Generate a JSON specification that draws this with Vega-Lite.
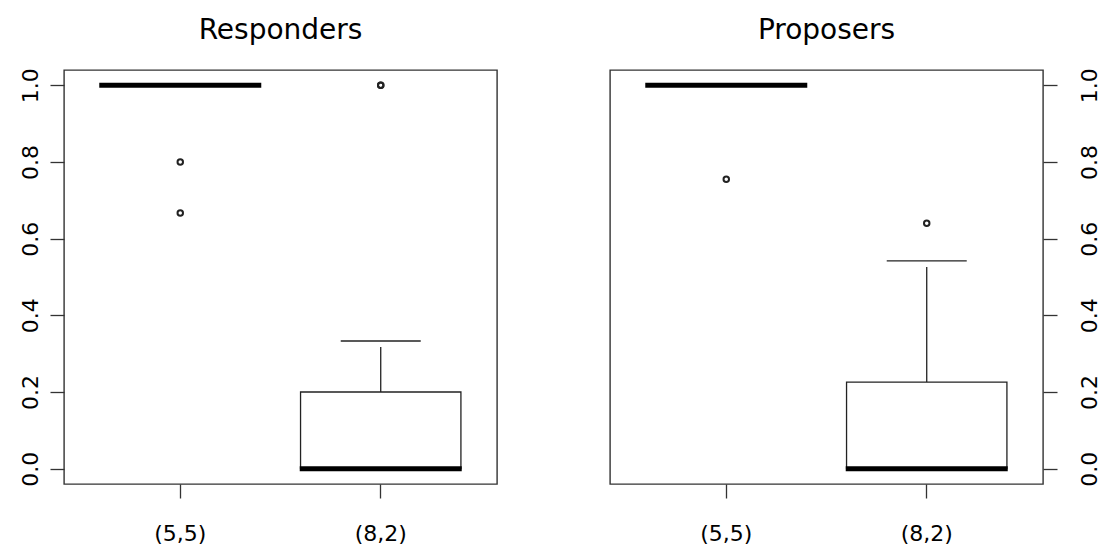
{
  "$schema": "https://vega.github.io/schema/vega-lite/v6.json",
  "autosize": {"type": "pad"},
  "padding": {"left": 18, "top": 16, "right": 0, "bottom": 0},
  "spacing": 111,
  "background": "white",
  "config": {
    "font": "DejaVu Sans",
    "view": {"stroke": "#333333", "strokeWidth": 1.4},
    "title": {"fontSize": 28, "fontWeight": "normal", "color": "#000000", "anchor": "middle", "baseline": "alphabetic", "offset": 23, "font": "DejaVu Sans"},
    "axis": {"grid": false, "domain": false, "title": null, "tickColor": "#333333", "tickWidth": 1.3, "tickSize": 14, "labelFontSize": 22, "labelColor": "#000000", "labelFont": "DejaVu Sans"}
  },
  "datasets": {
    "stats": [
      {"panel": "Responders", "group": "(5,5)", "lower_whisker": 1, "q1": 1, "median": 1, "q3": 1, "upper_whisker": 1},
      {"panel": "Responders", "group": "(8,2)", "lower_whisker": 0, "q1": 0, "median": 0, "q3": 0.2, "upper_whisker": 0.333},
      {"panel": "Proposers", "group": "(5,5)", "lower_whisker": 1, "q1": 1, "median": 1, "q3": 1, "upper_whisker": 1},
      {"panel": "Proposers", "group": "(8,2)", "lower_whisker": 0, "q1": 0, "median": 0, "q3": 0.226, "upper_whisker": 0.542}
    ],
    "outliers": [
      {"panel": "Responders", "group": "(5,5)", "value": 0.8},
      {"panel": "Responders", "group": "(5,5)", "value": 0.667},
      {"panel": "Responders", "group": "(8,2)", "value": 1.0},
      {"panel": "Responders", "group": "(8,2)", "value": 1.0},
      {"panel": "Proposers", "group": "(5,5)", "value": 0.755},
      {"panel": "Proposers", "group": "(8,2)", "value": 0.64}
    ]
  },
  "hconcat": [
    {
      "title": "Responders",
      "width": 433,
      "height": 414,
      "layer": [
        {
          "data": {"name": "stats"},
          "transform": [{"filter": "datum.panel == 'Responders'"}],
          "mark": {"type": "rule", "stroke": "#222222", "strokeWidth": 1.3, "strokeDash": [0, 6, 800, 0]},
          "encoding": {
            "x": {"field": "group", "type": "nominal", "scale": {"domain": ["(5,5)", "(8,2)"], "paddingInner": 0.2, "paddingOuter": 0.18},
                  "axis": {"orient": "bottom", "labelAngle": 0, "labelPadding": 25, "labelBaseline": "top"}},
            "y": {"field": "upper_whisker", "type": "quantitative", "scale": {"domain": [-0.04, 1.04], "nice": false, "zero": false},
                  "axis": {"orient": "left", "values": [0, 0.2, 0.4, 0.6, 0.8, 1.0], "format": ".1f", "labelAngle": 270, "labelAlign": "center", "labelBaseline": "alphabetic", "labelPadding": 13}},
            "y2": {"field": "q3"}
          }
        },
        {
          "data": {"name": "stats"},
          "transform": [{"filter": "datum.panel == 'Responders'"}],
          "mark": {"type": "rule", "stroke": "#222222", "strokeWidth": 1.3, "strokeDash": [0, 6, 800, 0]},
          "encoding": {
            "x": {"field": "group", "type": "nominal"},
            "y": {"field": "lower_whisker", "type": "quantitative"},
            "y2": {"field": "q1"}
          }
        },
        {
          "data": {"name": "stats"},
          "transform": [{"filter": "datum.panel == 'Responders'"}],
          "mark": {"type": "tick", "color": "#222222", "size": 80, "thickness": 1.3, "opacity": 1},
          "encoding": {
            "x": {"field": "group", "type": "nominal"},
            "y": {"field": "upper_whisker", "type": "quantitative"}
          }
        },
        {
          "data": {"name": "stats"},
          "transform": [{"filter": "datum.panel == 'Responders'"}],
          "mark": {"type": "bar", "fill": "white", "stroke": "#222222", "strokeWidth": 1.3},
          "encoding": {
            "x": {"field": "group", "type": "nominal"},
            "y": {"field": "q1", "type": "quantitative"},
            "y2": {"field": "q3"}
          }
        },
        {
          "data": {"name": "stats"},
          "transform": [{"filter": "datum.panel == 'Responders'"}],
          "mark": {"type": "tick", "color": "#000000", "size": 162, "thickness": 5, "opacity": 1},
          "encoding": {
            "x": {"field": "group", "type": "nominal"},
            "y": {"field": "median", "type": "quantitative"}
          }
        },
        {
          "data": {"name": "outliers"},
          "transform": [{"filter": "datum.panel == 'Responders'"}],
          "mark": {"type": "point", "shape": "circle", "filled": false, "size": 30, "stroke": "#222222", "strokeWidth": 2, "opacity": 1},
          "encoding": {
            "x": {"field": "group", "type": "nominal"},
            "y": {"field": "value", "type": "quantitative"}
          }
        }
      ]
    },
    {
      "title": "Proposers",
      "width": 433,
      "height": 414,
      "layer": [
        {
          "data": {"name": "stats"},
          "transform": [{"filter": "datum.panel == 'Proposers'"}],
          "mark": {"type": "rule", "stroke": "#222222", "strokeWidth": 1.3, "strokeDash": [0, 6, 800, 0]},
          "encoding": {
            "x": {"field": "group", "type": "nominal", "scale": {"domain": ["(5,5)", "(8,2)"], "paddingInner": 0.2, "paddingOuter": 0.18},
                  "axis": {"orient": "bottom", "labelAngle": 0, "labelPadding": 25, "labelBaseline": "top"}},
            "y": {"field": "upper_whisker", "type": "quantitative", "scale": {"domain": [-0.04, 1.04], "nice": false, "zero": false},
                  "axis": {"orient": "right", "values": [0, 0.2, 0.4, 0.6, 0.8, 1.0], "format": ".1f", "labelAngle": 270, "labelAlign": "center", "labelBaseline": "top", "labelPadding": 22}},
            "y2": {"field": "q3"}
          }
        },
        {
          "data": {"name": "stats"},
          "transform": [{"filter": "datum.panel == 'Proposers'"}],
          "mark": {"type": "rule", "stroke": "#222222", "strokeWidth": 1.3, "strokeDash": [0, 6, 800, 0]},
          "encoding": {
            "x": {"field": "group", "type": "nominal"},
            "y": {"field": "lower_whisker", "type": "quantitative"},
            "y2": {"field": "q1"}
          }
        },
        {
          "data": {"name": "stats"},
          "transform": [{"filter": "datum.panel == 'Proposers'"}],
          "mark": {"type": "tick", "color": "#222222", "size": 80, "thickness": 1.3, "opacity": 1},
          "encoding": {
            "x": {"field": "group", "type": "nominal"},
            "y": {"field": "upper_whisker", "type": "quantitative"}
          }
        },
        {
          "data": {"name": "stats"},
          "transform": [{"filter": "datum.panel == 'Proposers'"}],
          "mark": {"type": "bar", "fill": "white", "stroke": "#222222", "strokeWidth": 1.3},
          "encoding": {
            "x": {"field": "group", "type": "nominal"},
            "y": {"field": "q1", "type": "quantitative"},
            "y2": {"field": "q3"}
          }
        },
        {
          "data": {"name": "stats"},
          "transform": [{"filter": "datum.panel == 'Proposers'"}],
          "mark": {"type": "tick", "color": "#000000", "size": 162, "thickness": 5, "opacity": 1},
          "encoding": {
            "x": {"field": "group", "type": "nominal"},
            "y": {"field": "median", "type": "quantitative"}
          }
        },
        {
          "data": {"name": "outliers"},
          "transform": [{"filter": "datum.panel == 'Proposers'"}],
          "mark": {"type": "point", "shape": "circle", "filled": false, "size": 30, "stroke": "#222222", "strokeWidth": 2, "opacity": 1},
          "encoding": {
            "x": {"field": "group", "type": "nominal"},
            "y": {"field": "value", "type": "quantitative"}
          }
        }
      ]
    }
  ]
}
